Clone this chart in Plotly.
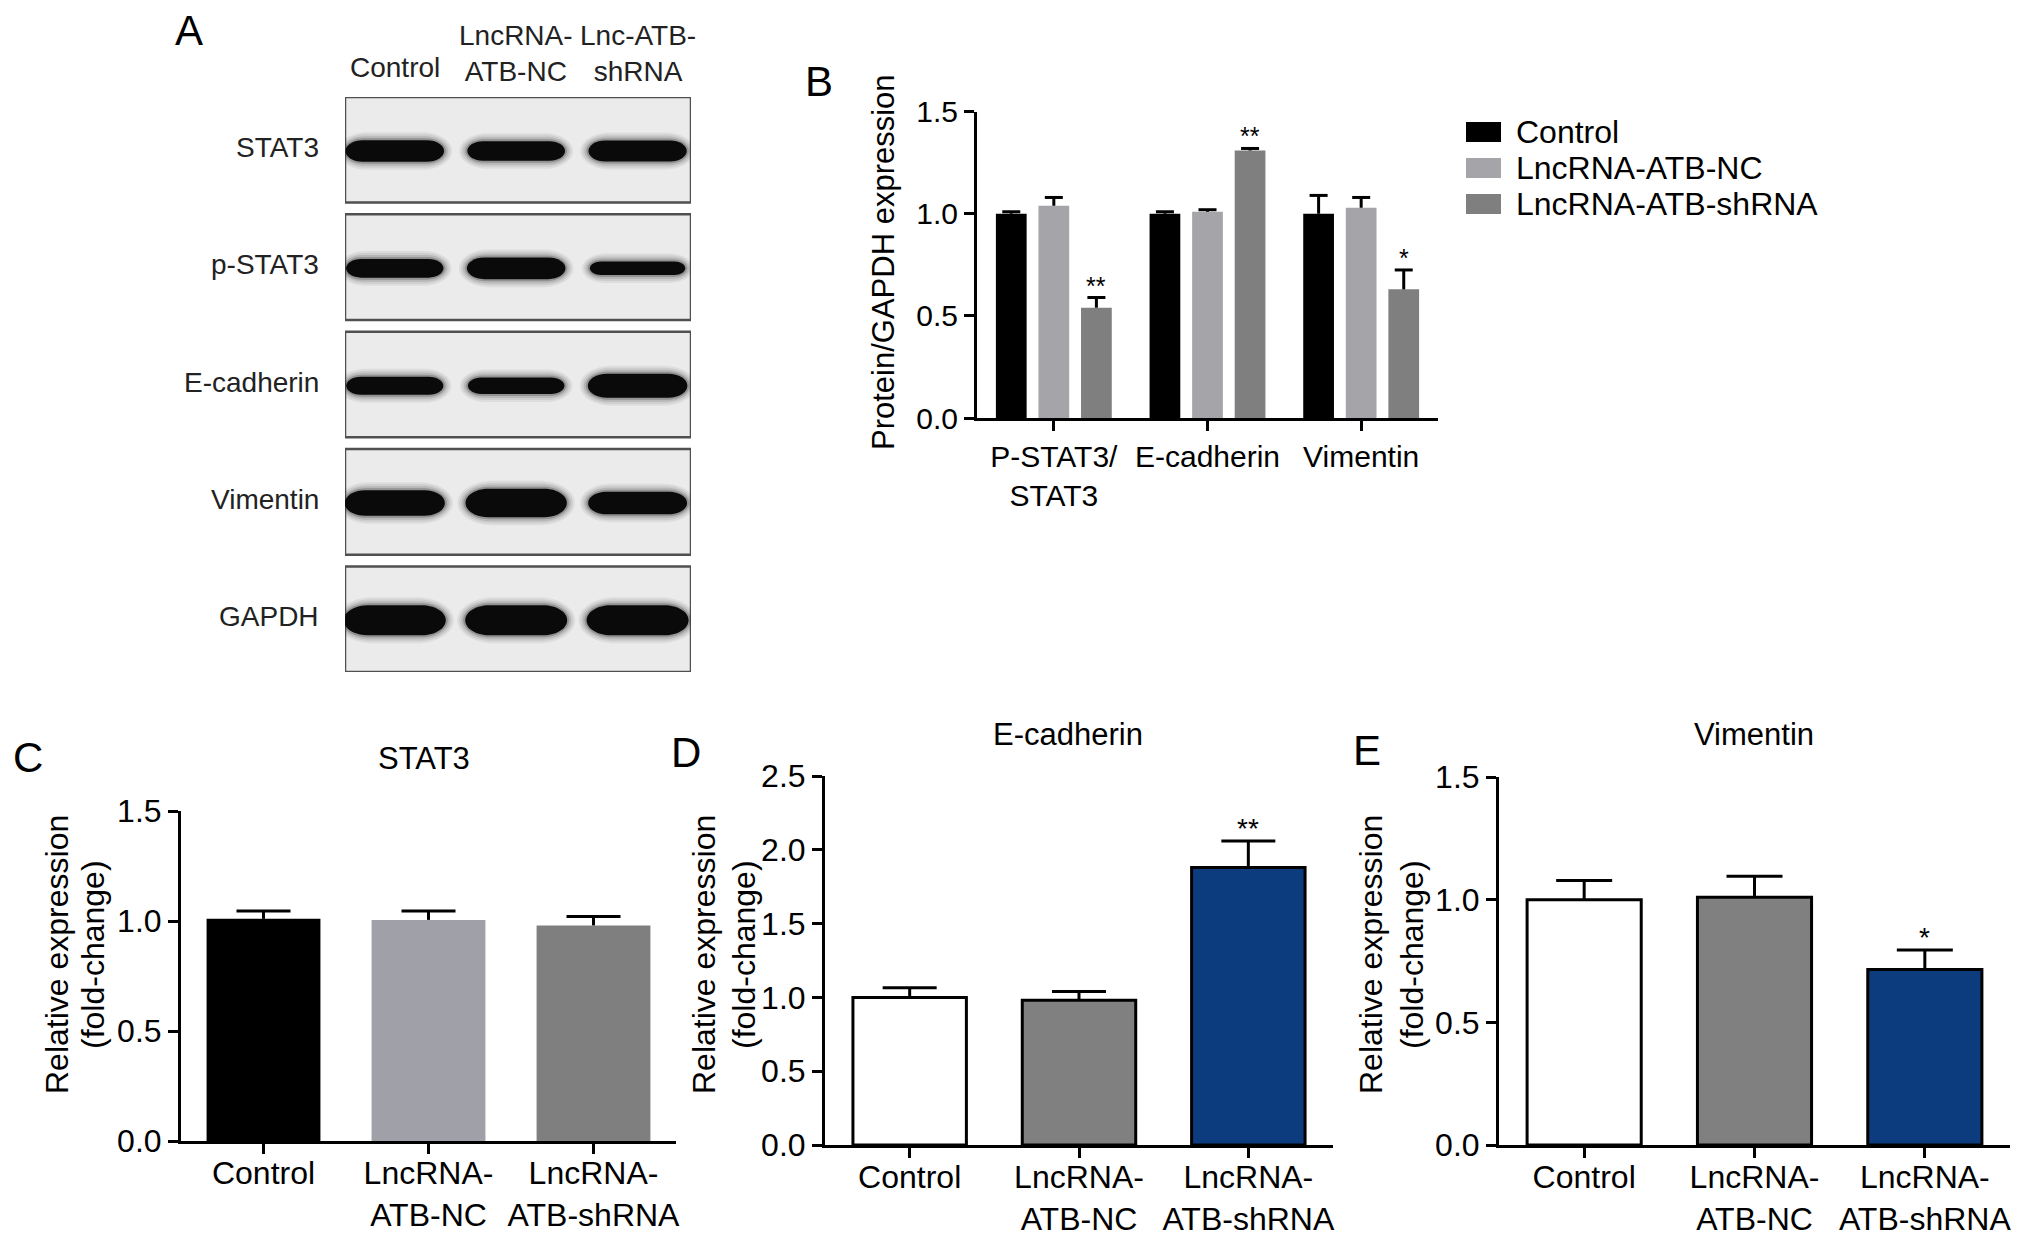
import plotly.graph_objects as go

W, H = 2032, 1238
FONT = "Liberation Sans, Arial, Helvetica, sans-serif"

# ---------------- DATA ----------------
# Panel A : western blot (relative band strength)
blot_lanes = ["Control", "LncRNA-<br>ATB-NC", "Lnc-ATB-<br>shRNA"]
blot_proteins = ["STAT3", "p-STAT3", "E-cadherin", "Vimentin", "GAPDH"]
blot_intensity = [
    [0.72, 0.65, 0.70],
    [0.62, 0.72, 0.45],
    [0.60, 0.55, 0.80],
    [0.85, 0.95, 0.75],
    [1.00, 1.00, 1.00],
]

# Panel B
b_categories = ["P-STAT3/<br>STAT3", "E-cadherin", "Vimentin"]
b_series = ["Control", "LncRNA-ATB-NC", "LncRNA-ATB-shRNA"]
b_control = [1.00, 1.00, 1.00]
b_nc = [1.04, 1.01, 1.03]
b_shrna = [0.54, 1.31, 0.63]
b_control_sem = [0.01, 0.01, 0.09]
b_nc_sem = [0.04, 0.01, 0.05]
b_shrna_sem = [0.05, 0.01, 0.095]
b_shrna_sig = ["**", "**", "*"]

# Panels C, D, E
cde_categories = ["Control", "LncRNA-<br>ATB-NC", "LncRNA-<br>ATB-shRNA"]
c_title, d_title, e_title = "STAT3", "E-cadherin", "Vimentin"
c_values = [1.01, 1.005, 0.98]
c_sem = [0.035, 0.04, 0.04]
c_sig = ["", "", ""]
d_values = [1.00, 0.98, 1.88]
d_sem = [0.065, 0.06, 0.18]
d_sig = ["", "", "**"]
e_values = [1.00, 1.01, 0.715]
e_sem = [0.078, 0.085, 0.08]
e_sig = ["", "", "*"]

# ---------------- STYLE ----------------
b_colors = ["#000000", "#a4a4a9", "#7f7f7f"]
c_colors = ["#000000", "#a0a0a8", "#7f7f7f"]
de_colors = ["#ffffff", "#808080", "#0c3c7d"]


def px_x(p):
    return p / W


def px_y(p):
    return 1 - p / H


fig = go.Figure()


def add_bars(xa, ya, xs, vals, sems, colors, line_w, width, cap_px, sig, sig_size):
    fig.add_trace(go.Bar(
        x=xs, y=vals, width=width, xaxis=xa, yaxis=ya,
        marker=dict(color=colors, line=dict(color="black", width=line_w)),
        error_y=dict(type="data", array=sems, arrayminus=[0] * len(vals),
                     symmetric=False, width=0, thickness=3, color="black"),
        showlegend=False, hoverinfo="skip"))
    tops = [v + s for v, s in zip(vals, sems)]
    fig.add_trace(go.Scatter(
        x=xs, y=tops, mode="markers", xaxis=xa, yaxis=ya,
        marker=dict(symbol="line-ew", size=cap_px / 1.4,
                    line=dict(color="black", width=3)),
        showlegend=False, hoverinfo="skip", cliponaxis=False))
    for x, t, s in zip(xs, tops, sig):
        if s:
            fig.add_annotation(x=x, y=t, xref=xa, yref=ya, text=s, showarrow=False,
                               yanchor="middle", yshift=12,
                               font=dict(size=sig_size, family=FONT, color="black"))


# ---- Panel B bars ----
b_vals = [b_control, b_nc, b_shrna]
b_sems = [b_control_sem, b_nc_sem, b_shrna_sem]
b_sigs = [["", "", ""], ["", "", ""], b_shrna_sig]
slot = 0.277
for k in range(3):
    xs = [g + (k - 1) * slot for g in range(len(b_categories))]
    add_bars("x", "y", xs, b_vals[k], b_sems[k], b_colors[k], 0, 0.2, 18,
             b_sigs[k], 25)

# ---- Panels C, D, E ----
idx = list(range(len(cde_categories)))
add_bars("x2", "y2", idx, c_values, c_sem, c_colors, 0, 0.69, 54, c_sig, 28)
add_bars("x3", "y3", idx, d_values, d_sem, de_colors, 3, 0.67, 54, d_sig, 28)
add_bars("x4", "y4", idx, e_values, e_sem, de_colors, 3, 0.67, 56, e_sig, 28)

# ---- Panel A invisible anchor trace ----
fig.add_trace(go.Scatter(x=[0.5, 1.5, 2.5], y=[0, 0, 0], xaxis="x5", yaxis="y5",
                         mode="markers", marker=dict(opacity=0), showlegend=False,
                         hoverinfo="skip"))

axis_common = dict(showline=True, linewidth=3, linecolor="black", ticks="outside",
                   ticklen=10, tickwidth=3, tickcolor="black", showgrid=False,
                   zeroline=False, fixedrange=True, automargin=False)


def xax(dom, n, labels, fs, anchor, standoff=0):
    return dict(axis_common, domain=[px_x(dom[0]), px_x(dom[1])], range=[-0.5, n - 0.5],
                tickmode="array", tickvals=list(range(n)), ticktext=labels,
                ticklabelstandoff=standoff,
                tickfont=dict(size=fs, family=FONT, color="black"), anchor=anchor)


def yax(dom, rng, fs, anchor):
    return dict(axis_common, domain=[px_y(dom[1]), px_y(dom[0])], range=rng,
                tick0=0, dtick=0.5, tickformat=".1f",
                tickfont=dict(size=fs, family=FONT, color="black"), anchor=anchor)


fig.update_layout(
    template="none",
    width=W, height=H, margin=dict(l=0, r=0, t=0, b=0, pad=0), autosize=False,
    paper_bgcolor="white", plot_bgcolor="rgba(0,0,0,0)",
    barmode="overlay", showlegend=False,
    font=dict(family=FONT, color="black"),
    xaxis=xax((977, 1438), 3, b_categories, 30, "y"),
    yaxis=yax((111.7, 418), [0, 1.5], 30, "x"),
    xaxis2=xax((181, 676), 3, cde_categories, 32, "y2", -8),
    yaxis2=yax((811, 1141), [0, 1.5], 32, "x2"),
    xaxis3=xax((825, 1333), 3, cde_categories, 32, "y3", -8),
    yaxis3=yax((776, 1145), [0, 2.5], 32, "x3"),
    xaxis4=xax((1499, 2010), 3, cde_categories, 32, "y4", -8),
    yaxis4=yax((777, 1145), [0, 1.5], 32, "x4"),
    xaxis5=dict(domain=[px_x(345), px_x(691)], range=[0.09, 2.94], visible=False,
                anchor="y5", fixedrange=True, automargin=False),
    yaxis5=dict(domain=[px_y(672), px_y(97)], range=[4.9, 0], visible=False,
                anchor="x5", fixedrange=True, automargin=False),
)

# ---- Panel A drawing ----
pitch_y = 575 / 4.9          # px per y unit of the blot axes
pitch_x = 346 / (2.94 - 0.09)  # px per x unit of the blot axes
shapes = []
for i, prot in enumerate(blot_proteins):
    shapes.append(dict(type="rect", xref="x5", yref="y5", x0=0.09, x1=2.94,
                       y0=i, y1=i + 0.9, fillcolor="#ebebeb",
                       line=dict(color="#505050", width=2.5), layer="below"))


def band_path(xc, yc, hw, hh_px):
    ry = hh_px / pitch_y
    rx = 1.6 * hh_px / pitch_x
    k = 0.5523
    x0, x1 = xc - hw, xc + hw
    t, b = yc - ry, yc + ry
    return (f"M{x0 + rx},{t} L{x1 - rx},{t} "
            f"C{x1 - rx + k * rx},{t} {x1},{yc - k * ry} {x1},{yc} "
            f"C{x1},{yc + k * ry} {x1 - rx + k * rx},{b} {x1 - rx},{b} "
            f"L{x0 + rx},{b} "
            f"C{x0 + rx - k * rx},{b} {x0},{yc + k * ry} {x0},{yc} "
            f"C{x0},{yc - k * ry} {x0 + rx - k * rx},{t} {x0 + rx},{t} Z")


for i, row in enumerate(blot_intensity):
    for j, inten in enumerate(row):
        xc = j + 0.5
        yc = i + 0.46
        hh = inten * 30 / 2
        hw = 0.37 + 0.05 * inten
        for grow, op, col in [(8, 0.08, "#444444"), (6, 0.10, "#444444"),
                              (4, 0.14, "#333333"), (2, 0.25, "#222222"),
                              (0, 1.0, "#0a0a0a")]:
            shapes.append(dict(type="path", xref="x5", yref="y5",
                               path=band_path(xc, yc, hw + grow / pitch_x, hh + grow),
                               fillcolor=col, opacity=op, line=dict(width=0)))

# row labels
for i, prot in enumerate(blot_proteins):
    fig.add_annotation(x=px_x(321), y=i + 0.43, xref="paper", yref="y5", text=prot,
                       showarrow=False, xanchor="right", yanchor="middle",
                       font=dict(size=28, family=FONT, color="#222222"))
# lane headers
for j, lane in enumerate(blot_lanes):
    two = "<br>" in lane
    fig.add_annotation(x=j + 0.5, y=px_y(53 if two else 68), xref="x5", yref="paper",
                       text=lane, showarrow=False, xanchor="center", yanchor="middle",
                       font=dict(size=28, family=FONT, color="#222222"))

# ---- Panel B legend ----
legend_rows = [132, 168, 204]
for k, name in enumerate(b_series):
    yc = legend_rows[k]
    shapes.append(dict(type="rect", xref="paper", yref="paper",
                       x0=px_x(1466), x1=px_x(1501), y0=px_y(yc + 10), y1=px_y(yc - 10),
                       fillcolor=b_colors[k], line=dict(width=0)))
    fig.add_annotation(x=px_x(1514), y=px_y(yc), xref="paper", yref="paper", text=name,
                       showarrow=False, xanchor="left", yanchor="middle",
                       font=dict(size=32, family=FONT, color="black"))

fig.update_layout(shapes=shapes)

# ---- Axis titles (as annotations) ----
fig.add_annotation(x=px_x(883), y=px_y(262), xref="paper", yref="paper",
                   text="Protein/GAPDH expression", textangle=-90, showarrow=False,
                   xanchor="center", yanchor="middle",
                   font=dict(size=31, family=FONT, color="black"))
for xl1, xl2 in [(57, 93), (704, 744), (1371, 1412)]:
    fig.add_annotation(x=px_x(xl1), y=px_y(955), xref="paper", yref="paper",
                       text="Relative expression", textangle=-90, showarrow=False,
                       xanchor="center", yanchor="middle",
                       font=dict(size=32, family=FONT, color="black"))
    fig.add_annotation(x=px_x(xl2), y=px_y(955), xref="paper", yref="paper",
                       text="(fold-change)", textangle=-90, showarrow=False,
                       xanchor="center", yanchor="middle",
                       font=dict(size=32, family=FONT, color="black"))

# ---- Panel titles ----
for txt, x, y in [(c_title, 424, 758), (d_title, 1068, 734), (e_title, 1754, 734)]:
    fig.add_annotation(x=px_x(x), y=px_y(y), xref="paper", yref="paper", text=txt,
                       showarrow=False, xanchor="center", yanchor="middle",
                       font=dict(size=31, family=FONT, color="black"))

# ---- Panel letters ----
for txt, x, y in [("A", 189, 31), ("B", 819, 82), ("C", 28, 757), ("D", 686, 753),
                  ("E", 1367, 750)]:
    fig.add_annotation(x=px_x(x), y=px_y(y), xref="paper", yref="paper", text=txt,
                       showarrow=False, xanchor="center", yanchor="middle",
                       font=dict(size=42, family=FONT, color="black"))

fig.write_html("out.html",
               config={"displayModeBar": False},
               post_script="document.body.style.margin='0';"
                           "document.body.style.overflow='hidden';")
